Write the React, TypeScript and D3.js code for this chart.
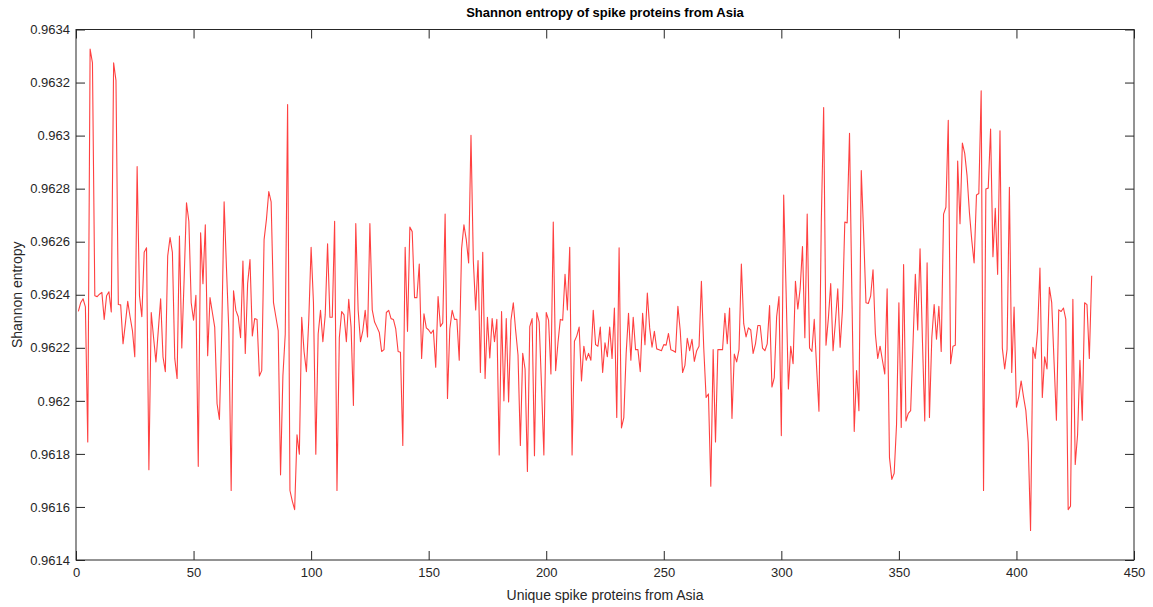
import React, { useEffect, useRef } from "react";
import * as d3 from "d3";

// Shannon entropy per unique spike protein (index 1..432)
const entropy = [
  0.962337, 0.96237, 0.962385, 0.962354, 0.961845, 0.963326, 0.963274, 0.962396, 0.962393, 0.962402,
  0.962409, 0.962307, 0.962396, 0.962411, 0.962335, 0.963274, 0.963208, 0.962363, 0.962362, 0.962215,
  0.962291, 0.962375, 0.962317, 0.962265, 0.962166, 0.962883, 0.962396, 0.962317, 0.96256, 0.962577,
  0.96174, 0.962333, 0.962238, 0.962147, 0.962265, 0.962385, 0.962166, 0.96211, 0.962546, 0.962616,
  0.96256, 0.96216, 0.962084, 0.962621, 0.962199, 0.962461, 0.962747, 0.962677, 0.96237, 0.962304,
  0.962398, 0.961753, 0.962634, 0.962442, 0.962664, 0.96217, 0.962389, 0.962333, 0.962278, 0.961989,
  0.96193, 0.962265, 0.96275, 0.962501, 0.962265, 0.961662, 0.962415, 0.962341, 0.962317, 0.962238,
  0.962527, 0.962179, 0.962442, 0.962533, 0.962245, 0.96231, 0.962307, 0.962094, 0.962114, 0.962608,
  0.962684, 0.962789, 0.96275, 0.96237, 0.962317, 0.962265, 0.961721, 0.962094, 0.962252, 0.963117,
  0.961662, 0.961622, 0.96159, 0.961872, 0.961799, 0.962315, 0.962186, 0.96211, 0.962304, 0.962579,
  0.96237, 0.961799, 0.962252, 0.962341, 0.962223, 0.962324, 0.962592, 0.962315, 0.962315, 0.962677,
  0.961662, 0.962238, 0.962337, 0.962324, 0.962223, 0.962383, 0.962278, 0.961983, 0.962668, 0.962343,
  0.962223, 0.962265, 0.962341, 0.962241, 0.962668, 0.962343, 0.962297, 0.962278, 0.962258, 0.962186,
  0.962193, 0.962333, 0.962341, 0.96231, 0.962307, 0.962271, 0.962186, 0.962183, 0.961832, 0.962579,
  0.962262, 0.962655, 0.962638, 0.962389, 0.962389, 0.962516, 0.96216, 0.962328, 0.962275, 0.962267,
  0.962254, 0.962267, 0.962127, 0.962393, 0.96228, 0.962294, 0.962704, 0.962009, 0.962271, 0.962341,
  0.962307, 0.962307, 0.962153, 0.962573, 0.962664, 0.962608, 0.96252, 0.963001, 0.962527, 0.962343,
  0.962529, 0.962107, 0.96256, 0.962084, 0.962315, 0.962162, 0.96231, 0.962223, 0.962307, 0.961796,
  0.962337, 0.962, 0.96231, 0.961996, 0.962304, 0.96237, 0.962265, 0.962173, 0.961832, 0.962179,
  0.96212, 0.961734, 0.96228, 0.96231, 0.961793, 0.962333, 0.962297, 0.962055, 0.961796, 0.962333,
  0.962304, 0.962101, 0.962674, 0.962114, 0.962219, 0.962307, 0.962304, 0.962477, 0.962343, 0.962579,
  0.961796, 0.962225, 0.962245, 0.962278, 0.962075, 0.962206, 0.962153, 0.962179, 0.962153, 0.962341,
  0.962212, 0.962206, 0.962278, 0.962107, 0.962219, 0.962166, 0.962278, 0.96216, 0.96235, 0.961937,
  0.962577, 0.961898, 0.961937, 0.962179, 0.96233, 0.962153, 0.962315, 0.962193, 0.962193, 0.96211,
  0.96233, 0.962212, 0.962406, 0.962275, 0.962202, 0.962262, 0.962196, 0.962193, 0.962189, 0.962212,
  0.96221, 0.962254, 0.962193, 0.962189, 0.962183, 0.962356, 0.962265, 0.962107, 0.962134, 0.962236,
  0.962189, 0.962232, 0.962149, 0.962189, 0.962206, 0.962451, 0.962199, 0.962013, 0.962026, 0.961678,
  0.962193, 0.961845, 0.962193, 0.962193, 0.962193, 0.96233, 0.962215, 0.96235, 0.961934, 0.962176,
  0.962147, 0.962193, 0.962516, 0.962291, 0.962241, 0.962275, 0.962267, 0.962179, 0.962215, 0.962284,
  0.962284, 0.962199, 0.962189, 0.962215, 0.962359, 0.962052, 0.962088, 0.962317, 0.962393, 0.961869,
  0.962776, 0.962422, 0.962045, 0.962206, 0.96214, 0.962451, 0.962346, 0.962422, 0.962582, 0.962238,
  0.962704, 0.962199, 0.962186, 0.962307, 0.962127, 0.961961, 0.962677, 0.963106, 0.96221, 0.96231,
  0.962442, 0.962189, 0.962297, 0.962422, 0.962202, 0.962343, 0.962674, 0.962671, 0.963009, 0.962402,
  0.961885, 0.962114, 0.961963, 0.962868, 0.962632, 0.96237, 0.962367, 0.962396, 0.962494, 0.962252,
  0.96216, 0.962206, 0.962153, 0.962101, 0.962422, 0.961786, 0.961704, 0.961727, 0.961911, 0.96237,
  0.9619, 0.962514, 0.961924, 0.961953, 0.961963, 0.962212, 0.962477, 0.962267, 0.962573, 0.962232,
  0.961924, 0.96252, 0.961937, 0.962238, 0.962363, 0.962232, 0.962356, 0.962186, 0.962704, 0.96273,
  0.963058, 0.96214, 0.962206, 0.96221, 0.962904, 0.962668, 0.962972, 0.962933, 0.962848, 0.96271,
  0.962605, 0.96252, 0.962776, 0.962782, 0.963169, 0.961662, 0.962799, 0.962802, 0.963025, 0.962543,
  0.962726, 0.962477, 0.963018, 0.962199, 0.96212, 0.962193, 0.962805, 0.962107, 0.962354, 0.961976,
  0.962016, 0.962075, 0.962016, 0.961963, 0.961845, 0.961511, 0.962202, 0.96216, 0.962265, 0.962501,
  0.962013, 0.962166, 0.96212, 0.962428, 0.96237, 0.962147, 0.961927, 0.962343, 0.962337, 0.96235,
  0.962307, 0.96159, 0.961603, 0.962383, 0.96176, 0.961872, 0.962153, 0.961927, 0.96237, 0.962363,
  0.96216, 0.962472,
];

const xTicks = [0, 50, 100, 150, 200, 250, 300, 350, 400, 450];
const yTicks = [0.9614, 0.9616, 0.9618, 0.962, 0.9622, 0.9624, 0.9626, 0.9628, 0.963, 0.9632, 0.9634];

const title = "Shannon entropy of spike proteins from Asia";
const xLabel = "Unique spike proteins from Asia";
const yLabel = "Shannon entropy";

export default function App() {
  const ref = useRef<SVGSVGElement>(null);

  useEffect(() => {
    const width = 1153;
    const height = 607;
    const left = 76;
    const right = 1134;
    const top = 29.5;
    const bottom = 560;
    const font = "'Liberation Sans', Arial, Helvetica, sans-serif";
    const ink = "#262626";

    const svg = d3.select(ref.current).attr("width", width).attr("height", height);
    svg.selectAll("*").remove();

    svg.append("rect").attr("width", width).attr("height", height).attr("fill", "#fff");

    const x = d3.scaleLinear().domain([0, 450]).range([left, right]);
    const y = d3.scaleLinear().domain([0.9614, 0.9634]).range([bottom, top]);

    const fmt = (d: number) => String(+d.toFixed(4));

    // plot line
    const line = d3
      .line<number>()
      .x((_, i) => x(i + 1))
      .y((d) => y(d));

    svg
      .append("path")
      .datum(entropy)
      .attr("d", line)
      .attr("fill", "none")
      .attr("stroke", "#ff0000")
      .attr("stroke-opacity", 0.75)
      .attr("stroke-width", 1.1)
      .attr("stroke-linejoin", "round");

    // axes with inward ticks
    const styleAxis = (g: d3.Selection<SVGGElement, unknown, null, undefined>) => {
      g.select(".domain").remove();
      g.selectAll("line").attr("stroke", ink).attr("stroke-width", 1);
      g.selectAll("text").attr("fill", ink).style("font-size", "13px").style("font-family", font);
    };

    svg
      .append("g")
      .attr("transform", `translate(0,${bottom})`)
      .call(d3.axisBottom(x).tickValues(xTicks).tickSize(-9).tickPadding(8).tickFormat((d) => String(d)))
      .call(styleAxis);

    svg
      .append("g")
      .attr("transform", `translate(0,${top})`)
      .call(d3.axisTop(x).tickValues(xTicks).tickSize(-9).tickFormat(() => ""))
      .call(styleAxis);

    svg
      .append("g")
      .attr("transform", `translate(${left},0)`)
      .call(d3.axisLeft(y).tickValues(yTicks).tickSize(-9).tickPadding(6).tickFormat((d) => fmt(+d)))
      .call(styleAxis);

    svg
      .append("g")
      .attr("transform", `translate(${right},0)`)
      .call(d3.axisRight(y).tickValues(yTicks).tickSize(-9).tickFormat(() => ""))
      .call(styleAxis);

    // box
    svg
      .append("rect")
      .attr("x", left)
      .attr("y", top)
      .attr("width", right - left)
      .attr("height", bottom - top)
      .attr("fill", "none")
      .attr("stroke", ink)
      .attr("stroke-width", 1);

    svg
      .append("text")
      .attr("x", (left + right) / 2)
      .attr("y", 17)
      .attr("text-anchor", "middle")
      .style("font-family", font)
      .style("font-size", "13px")
      .style("font-weight", "bold")
      .attr("fill", "#000")
      .text(title);

    svg
      .append("text")
      .attr("x", (left + right) / 2)
      .attr("y", 600)
      .attr("text-anchor", "middle")
      .style("font-family", font)
      .style("font-size", "14px")
      .attr("fill", ink)
      .text(xLabel);

    svg
      .append("text")
      .attr("transform", `translate(22,${(top + bottom) / 2}) rotate(-90)`)
      .attr("text-anchor", "middle")
      .style("font-family", font)
      .style("font-size", "14px")
      .attr("fill", ink)
      .text(yLabel);
  }, []);

  return <svg ref={ref} style={{ position: "absolute", left: 0, top: 0, display: "block" }} />;
}
